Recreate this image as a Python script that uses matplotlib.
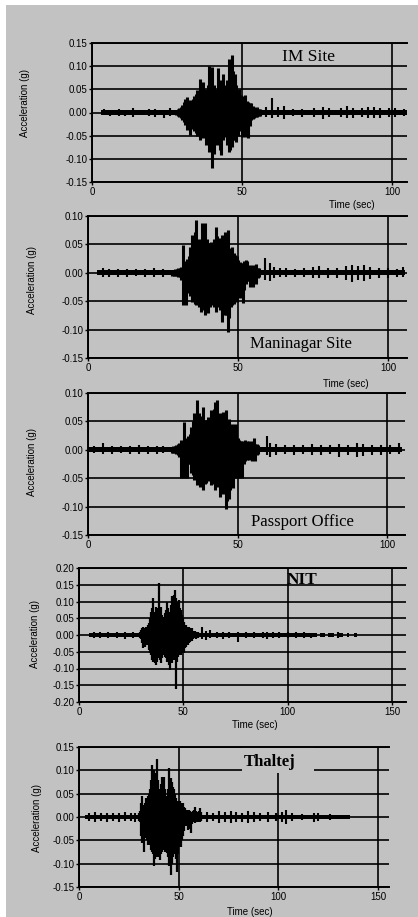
import numpy as np
import matplotlib.pyplot as plt
from matplotlib.patches import Rectangle

GRAY = '#c2c2c2'
W, H = 418, 917

# ---- IM Site ----
im_span = [(3, 105)]
im_t0, im_dt = 28.0, 0.5
im_hi = [0.006, 0.008, 0.010, 0.012, 0.016, 0.022, 0.030, 0.034, 0.028, 0.020,
         0.026, 0.030, 0.036, 0.040, 0.048, 0.042, 0.073, 0.060, 0.066, 0.050,
         0.045, 0.060, 0.100, 0.070, 0.098, 0.060, 0.050, 0.048, 0.095, 0.070,
         0.060, 0.084, 0.060, 0.048, 0.070, 0.116, 0.100, 0.124, 0.090, 0.084,
         0.060, 0.041, 0.050, 0.037, 0.030, 0.035, 0.037, 0.025, 0.023, 0.020,
         0.020, 0.015, 0.012, 0.010, 0.012, 0.008, 0.008]
im_lo = [-0.006, -0.008, -0.010, -0.012, -0.016, -0.020, -0.028, -0.038, -0.030, -0.049,
         -0.035, -0.030, -0.040, -0.045, -0.050, -0.040, -0.060, -0.045, -0.055, -0.050,
         -0.070, -0.060, -0.085, -0.070, -0.120, -0.090, -0.060, -0.070, -0.065, -0.080,
         -0.092, -0.060, -0.052, -0.050, -0.070, -0.085, -0.080, -0.074, -0.060, -0.060,
         -0.063, -0.050, -0.031, -0.040, -0.052, -0.045, -0.052, -0.040, -0.056, -0.030,
         -0.017, -0.015, -0.012, -0.010, -0.010, -0.008, -0.008]
im_bt = [4, 6, 9, 11, 13.5, 16, 19, 21, 24, 26, 58, 60, 62, 64, 67, 70, 74, 77, 79,
         83, 85, 87, 90, 92, 94, 96, 99, 101, 104]
im_bhi = [0.007, 0.006, 0.008, 0.006, 0.009, 0.006, 0.007, 0.007, 0.006, 0.009,
          0.012, 0.031, 0.012, 0.015, 0.008, 0.008, 0.010, 0.012, 0.009,
          0.010, 0.013, 0.010, 0.009, 0.011, 0.012, 0.010, 0.009, 0.010, 0.008]
im_blo = [-0.006, -0.007, -0.008, -0.007, -0.010, -0.006, -0.008, -0.010, -0.012, -0.008,
          -0.010, -0.012, -0.010, -0.015, -0.008, -0.009, -0.010, -0.014, -0.009,
          -0.010, -0.012, -0.012, -0.010, -0.011, -0.011, -0.012, -0.010, -0.009, -0.008]

# ---- Maninagar Site ----
mn_span = [(3, 105.5)]
mn_t0, mn_dt = 28.0, 0.5
mn_hi = [0.005, 0.005, 0.006, 0.006, 0.008, 0.008, 0.010, 0.049, 0.015, 0.020,
         0.025, 0.030, 0.045, 0.066, 0.050, 0.072, 0.093, 0.060, 0.055, 0.060,
         0.087, 0.065, 0.087, 0.060, 0.052, 0.045, 0.055, 0.050, 0.060, 0.081,
         0.065, 0.061, 0.055, 0.066, 0.060, 0.072, 0.060, 0.075, 0.043, 0.040,
         0.046, 0.035, 0.031, 0.030, 0.022, 0.019, 0.018, 0.017, 0.020, 0.022,
         0.020, 0.012, 0.014, 0.010, 0.014, 0.010, 0.015, 0.008, 0.008]
mn_lo = [-0.005, -0.005, -0.006, -0.006, -0.008, -0.008, -0.012, -0.057, -0.020, -0.057,
         -0.030, -0.035, -0.040, -0.051, -0.045, -0.055, -0.057, -0.050, -0.060, -0.069,
         -0.065, -0.055, -0.075, -0.065, -0.070, -0.060, -0.057, -0.050, -0.060, -0.069,
         -0.060, -0.057, -0.065, -0.086, -0.070, -0.075, -0.075, -0.104, -0.080, -0.060,
         -0.057, -0.055, -0.045, -0.051, -0.040, -0.045, -0.040, -0.054, -0.030, -0.020,
         -0.015, -0.015, -0.025, -0.012, -0.025, -0.012, -0.020, -0.010, -0.008]
mn_bt = [5, 7, 10, 13, 16, 19, 22, 25, 59, 60.5, 62, 64, 66, 69, 72, 75, 77, 80,
         83, 86, 88, 90, 92, 94, 97, 100, 103, 105]
mn_bhi = [0.008, 0.006, 0.007, 0.006, 0.007, 0.006, 0.008, 0.007,
          0.026, 0.018, 0.010, 0.008, 0.008, 0.007, 0.008, 0.010, 0.012, 0.008,
          0.009, 0.012, 0.014, 0.012, 0.013, 0.010, 0.008, 0.009, 0.007, 0.010]
mn_blo = [-0.007, -0.008, -0.007, -0.008, -0.006, -0.007, -0.008, -0.007,
          -0.012, -0.014, -0.010, -0.008, -0.008, -0.007, -0.008, -0.009, -0.010, -0.009,
          -0.010, -0.012, -0.016, -0.013, -0.014, -0.011, -0.009, -0.009, -0.008, -0.008]

# ---- Passport Office ----
po_span = [(0, 105)]
po_t0, po_dt = 28.0, 0.5
po_hi = [0.005, 0.006, 0.006, 0.009, 0.010, 0.012, 0.018, 0.015, 0.049, 0.020,
         0.018, 0.025, 0.028, 0.040, 0.050, 0.064, 0.060, 0.088, 0.065, 0.060,
         0.055, 0.076, 0.050, 0.053, 0.058, 0.050, 0.070, 0.060, 0.072, 0.085,
         0.088, 0.060, 0.065, 0.055, 0.066, 0.060, 0.070, 0.050, 0.055, 0.045,
         0.040, 0.046, 0.040, 0.046, 0.020, 0.018, 0.016, 0.015, 0.014, 0.018,
         0.016, 0.012, 0.015, 0.012, 0.015, 0.020, 0.010, 0.010, 0.008]
po_lo = [-0.005, -0.006, -0.006, -0.008, -0.010, -0.012, -0.050, -0.030, -0.050, -0.030,
         -0.050, -0.025, -0.025, -0.040, -0.045, -0.054, -0.050, -0.062, -0.055, -0.065,
         -0.060, -0.071, -0.060, -0.058, -0.055, -0.050, -0.062, -0.058, -0.060, -0.070,
         -0.060, -0.065, -0.083, -0.070, -0.078, -0.070, -0.104, -0.090, -0.086, -0.070,
         -0.060, -0.068, -0.050, -0.048, -0.040, -0.050, -0.035, -0.050, -0.025, -0.020,
         -0.018, -0.015, -0.018, -0.012, -0.020, -0.012, -0.020, -0.010, -0.008]
po_bt = [2, 5, 8, 11, 14, 17, 20, 23, 25, 59.7, 61, 63, 66, 69, 72, 75, 78, 81,
         84, 87, 90, 92, 95, 98, 101, 104]
po_bhi = [0.006, 0.012, 0.007, 0.006, 0.007, 0.008, 0.006, 0.007, 0.006,
          0.024, 0.012, 0.010, 0.008, 0.009, 0.008, 0.010, 0.008, 0.009,
          0.010, 0.009, 0.012, 0.010, 0.009, 0.008, 0.009, 0.012]
po_blo = [-0.006, -0.007, -0.008, -0.006, -0.008, -0.007, -0.007, -0.008, -0.006,
          -0.010, -0.012, -0.009, -0.008, -0.010, -0.008, -0.009, -0.010, -0.008,
          -0.012, -0.010, -0.012, -0.011, -0.009, -0.010, -0.008, -0.008]

# ---- NIT ----
ni_span = [(5, 114), (115.5, 118), (119.5, 122), (123.5, 126.5), (128.5, 129.5), (132, 133)]
ni_t0, ni_dt = 29.0, 0.5
ni_hi = [0.008, 0.015, 0.020, 0.025, 0.022, 0.020, 0.025, 0.020, 0.030, 0.035,
         0.050, 0.070, 0.080, 0.110, 0.060, 0.070, 0.085, 0.080, 0.060, 0.155,
         0.070, 0.085, 0.060, 0.055, 0.065, 0.075, 0.100, 0.080, 0.070, 0.060,
         0.090, 0.115, 0.100, 0.120, 0.135, 0.110, 0.100, 0.090, 0.105, 0.080,
         0.075, 0.060, 0.050, 0.040, 0.030, 0.030, 0.025, 0.025, 0.020, 0.018,
         0.020, 0.012, 0.010, 0.012, 0.010, 0.008, 0.008]
ni_lo = [-0.008, -0.012, -0.025, -0.040, -0.030, -0.035, -0.030, -0.025, -0.030, -0.045,
         -0.055, -0.060, -0.075, -0.080, -0.070, -0.085, -0.090, -0.080, -0.070, -0.062,
         -0.075, -0.085, -0.070, -0.060, -0.065, -0.070, -0.080, -0.075, -0.090, -0.105,
         -0.080, -0.085, -0.070, -0.075, -0.065, -0.160, -0.080, -0.065, -0.060, -0.060,
         -0.060, -0.055, -0.055, -0.055, -0.040, -0.035, -0.030, -0.025, -0.020, -0.015,
         -0.018, -0.012, -0.010, -0.010, -0.012, -0.008, -0.008]
ni_bt = [7, 10, 14, 18, 22, 26, 58.8, 61, 63, 66, 69, 72, 76, 80, 84, 88,
         90, 93, 96, 100, 104, 108, 111, 124]
ni_bhi = [0.010, 0.008, 0.009, 0.008, 0.010, 0.008,
          0.025, 0.012, 0.015, 0.010, 0.008, 0.010, 0.009, 0.008, 0.010, 0.008,
          0.010, 0.009, 0.008, 0.008, 0.009, 0.008, 0.007, 0.008]
ni_blo = [-0.010, -0.010, -0.008, -0.008, -0.012, -0.010,
          -0.012, -0.015, -0.010, -0.010, -0.012, -0.010, -0.020, -0.010, -0.009, -0.010,
          -0.012, -0.010, -0.009, -0.008, -0.010, -0.008, -0.008, -0.010]

# ---- Thaltej ----
th_span = [(3, 136)]
th_t0, th_dt = 30.0, 0.5
th_hi = [0.008, 0.012, 0.030, 0.044, 0.020, 0.025, 0.030, 0.040, 0.035, 0.045,
         0.050, 0.061, 0.080, 0.111, 0.090, 0.100, 0.085, 0.095, 0.124, 0.080,
         0.060, 0.055, 0.070, 0.086, 0.070, 0.086, 0.060, 0.040, 0.045, 0.060,
         0.104, 0.080, 0.083, 0.075, 0.065, 0.060, 0.050, 0.040, 0.035, 0.035,
         0.030, 0.035, 0.030, 0.028, 0.030, 0.022, 0.020, 0.015, 0.015, 0.012,
         0.015, 0.012, 0.010, 0.010, 0.012, 0.015, 0.022, 0.012, 0.010, 0.010,
         0.012, 0.020, 0.010]
th_lo = [-0.008, -0.010, -0.040, -0.056, -0.045, -0.074, -0.040, -0.045, -0.050, -0.060,
         -0.055, -0.060, -0.070, -0.075, -0.080, -0.106, -0.090, -0.080, -0.085, -0.085,
         -0.075, -0.092, -0.080, -0.075, -0.065, -0.070, -0.075, -0.070, -0.078, -0.085,
         -0.106, -0.095, -0.124, -0.100, -0.085, -0.080, -0.075, -0.090, -0.117, -0.080,
         -0.064, -0.060, -0.064, -0.050, -0.040, -0.030, -0.020, -0.020, -0.020, -0.028,
         -0.025, -0.020, -0.035, -0.015, -0.010, -0.010, -0.012, -0.010, -0.010, -0.010,
         -0.010, -0.010, -0.008]
th_bt = [5, 8, 11, 14, 17, 20, 23, 26, 28, 64, 67, 70, 73, 76, 79, 82, 85, 88, 91,
         95, 99, 102, 104, 107, 112, 118, 120, 126]
th_bhi = [0.008, 0.010, 0.009, 0.008, 0.009, 0.008, 0.010, 0.008, 0.009,
          0.010, 0.008, 0.012, 0.010, 0.012, 0.010, 0.008, 0.012, 0.010, 0.008,
          0.010, 0.008, 0.010, 0.014, 0.008, 0.007, 0.009, 0.009, 0.007]
th_blo = [-0.008, -0.010, -0.009, -0.010, -0.008, -0.010, -0.009, -0.008, -0.010,
          -0.010, -0.008, -0.012, -0.010, -0.012, -0.010, -0.010, -0.012, -0.010, -0.008,
          -0.010, -0.008, -0.010, -0.014, -0.008, -0.007, -0.010, -0.009, -0.007]

FS = 7.0  # tick / axis label size


def px_axes(fig, left, top, right, bottom):
    # axes box given in pixel coordinates measured from the top-left corner
    return fig.add_axes([left / W, 1 - bottom / H, (right - left) / W, (bottom - top) / H])


def draw_record(ax, span, base, t0, dt, hi, lo, bt, bhi, blo, lw):
    for a, b in span:
        ax.fill_between([a, b], [-base, -base], [base, base], color='k', lw=0, zorder=3)
    ax.vlines(bt, blo, bhi, color='k', lw=1.5, zorder=3)
    t = t0 + dt * np.arange(len(hi))
    ax.vlines(t, lo, hi, color='k', lw=lw, zorder=3)


def style_axes(ax, xlim, xticks, ylim, yticks):
    ax.set_facecolor(GRAY)
    ax.set_xlim(*xlim)
    ax.set_ylim(*ylim)
    ax.set_xticks(xticks)
    ax.set_yticks(yticks)
    ax.set_xticklabels([str(v) for v in xticks])
    ax.set_yticklabels(['%.2f' % v for v in yticks])
    ax.set_axisbelow(True)
    ax.grid(True, color='k', lw=1.2)
    ax.spines['right'].set_visible(False)
    for s in ['left', 'top', 'bottom']:
        ax.spines[s].set_linewidth(1.4)
    ax.tick_params(direction='out', length=2.5, width=1.0, labelsize=FS, pad=1.0,
                   colors='k')


plt.rcParams['font.family'] = 'Liberation Sans'
fig = plt.figure(figsize=(W / 100, H / 100), dpi=100, facecolor='white')
fig.add_artist(Rectangle((6 / W, 0), 1 - 6 / W, 1 - 5 / H, transform=fig.transFigure,
                         facecolor=GRAY, edgecolor='none', zorder=-10))

serif = 'Liberation Serif'
ylab = 'Acceleration (g)'

# IM Site
ax1 = px_axes(fig, 92, 43, 407, 182)
style_axes(ax1, (0, 105), [0, 50, 100], (-0.15, 0.15), [0.15, 0.10, 0.05, 0.0, -0.05, -0.10, -0.15])
draw_record(ax1, im_span, 0.0045, im_t0, im_dt, im_hi, im_lo, im_bt, im_bhi, im_blo, 2.2)
ax1.text(72.3, 0.12, 'IM Site', family=serif, fontsize=12.5, ha='center', va='center')
fig.text(25 / W, 1 - 103 / H, ylab, rotation=90, fontsize=FS, ha='center', va='center')
fig.text(352 / W, 1 - 205 / H, 'Time (sec)', fontsize=FS, ha='center', va='center')

# Maninagar Site
ax2 = px_axes(fig, 88, 216, 407, 358)
style_axes(ax2, (0, 106.3), [0, 50, 100], (-0.15, 0.10), [0.10, 0.05, 0.0, -0.05, -0.10, -0.15])
draw_record(ax2, mn_span, 0.0045, mn_t0, mn_dt, mn_hi, mn_lo, mn_bt, mn_bhi, mn_blo, 2.2)
ax2.text(71, -0.125, 'Maninagar Site', family=serif, fontsize=12, ha='center', va='center')
fig.text(32 / W, 1 - 280 / H, ylab, rotation=90, fontsize=FS, ha='center', va='center')
fig.text(346 / W, 1 - 384 / H, 'Time (sec)', fontsize=FS, ha='center', va='center')

# Passport Office
ax3 = px_axes(fig, 88, 393, 405, 535)
style_axes(ax3, (0, 106), [0, 50, 100], (-0.15, 0.10), [0.10, 0.05, 0.0, -0.05, -0.10, -0.15])
draw_record(ax3, po_span, 0.0045, po_t0, po_dt, po_hi, po_lo, po_bt, po_bhi, po_blo, 2.2)
ax3.text(71.6, -0.127, 'Passport Office', family=serif, fontsize=12, ha='center', va='center')
fig.text(32 / W, 1 - 462 / H, ylab, rotation=90, fontsize=FS, ha='center', va='center')

# NIT
ax4 = px_axes(fig, 79, 568, 406, 702)
style_axes(ax4, (0, 156.7), [0, 50, 100, 150], (-0.20, 0.20),
           [0.20, 0.15, 0.10, 0.05, 0.0, -0.05, -0.10, -0.15, -0.20])
draw_record(ax4, ni_span, 0.007, ni_t0, ni_dt, ni_hi, ni_lo, ni_bt, ni_bhi, ni_blo, 1.6)
ax4.text(107, 0.165, 'NIT', family=serif, fontsize=12.5, fontweight='bold',
         ha='center', va='center')
fig.text(35 / W, 1 - 634 / H, ylab, rotation=90, fontsize=FS, ha='center', va='center')
fig.text(255 / W, 1 - 725 / H, 'Time (sec)', fontsize=FS, ha='center', va='center')

# Thaltej
ax5 = px_axes(fig, 79, 747, 389, 887)
style_axes(ax5, (0, 155.5), [0, 50, 100, 150], (-0.15, 0.15),
           [0.15, 0.10, 0.05, 0.0, -0.05, -0.10, -0.15])
draw_record(ax5, th_span, 0.005, th_t0, th_dt, th_hi, th_lo, th_bt, th_bhi, th_blo, 1.6)
ax5.add_patch(Rectangle((82, 0.094), 36, 0.056, facecolor=GRAY, edgecolor='none', zorder=1.5))
ax5.text(95.8, 0.118, 'Thaltej', family=serif, fontsize=12, fontweight='bold',
         ha='center', va='center', zorder=4)
fig.text(37 / W, 1 - 818 / H, ylab, rotation=90, fontsize=FS, ha='center', va='center')
fig.text(250 / W, 1 - 912 / H, 'Time (sec)', fontsize=FS, ha='center', va='center')

fig.savefig('out.png', dpi=100, facecolor=fig.get_facecolor())
